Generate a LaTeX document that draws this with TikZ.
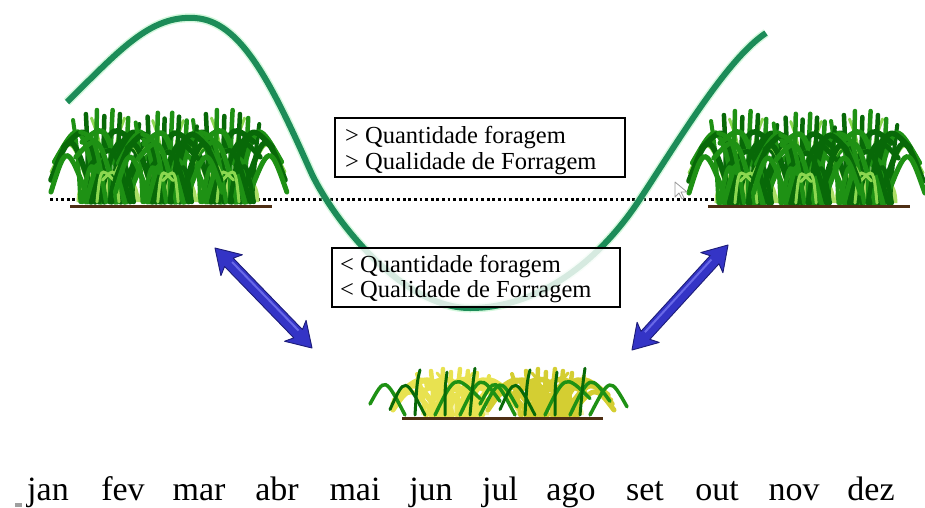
\documentclass[tikz,border=0pt]{standalone}
\usepackage{fontspec}
\setmainfont{Liberation Serif}
\newfontfamily\labelface{Liberation Serif}

\definecolor{curvegreen}{RGB}{28,140,88}
\definecolor{glowgreen}{RGB}{160,240,180}
\definecolor{bladeA}{RGB}{30,145,20}
\definecolor{bladeB}{RGB}{8,105,8}
\definecolor{bladeL}{RGB}{140,215,80}
\definecolor{leafback}{RGB}{170,222,100}
\definecolor{dryA}{RGB}{232,226,80}
\definecolor{dryB}{RGB}{212,206,50}
\definecolor{dryback}{RGB}{246,242,170}
\definecolor{soil}{RGB}{78,46,20}
\definecolor{arrowblue}{RGB}{52,52,198}
\definecolor{arrowedge}{RGB}{28,28,120}
\definecolor{arrowlight}{RGB}{105,105,232}

\tikzset{
  growth/.style={draw=curvegreen, line width=6pt},
  growthglow/.style={draw=glowgreen, line width=9pt, opacity=0.45},
  infobox/.style={draw=black, line width=1.6pt, fill=white, inner sep=0pt},
  boxtext/.style={anchor=base west, inner sep=0pt, font=\labelface\fontsize{24.5}{26}\selectfont},
  month/.style={anchor=base, inner sep=0pt, font=\labelface\fontsize{34}{36}\selectfont},
  ground/.style={draw=soil, line width=3pt},
  dotline/.style={draw=black, line width=3pt, dash pattern=on 2.8pt off 2.8pt},
}

% blade lists: base x / control x / control y / tip x / tip y / width / colour
\def\bladesFull{%
  -16/-40/-70/-62/-30/3/bladeL, 16/40/-70/62/-30/3/bladeL,
  -6/-8/-60/-18/-84/3/bladeL, 6/8/-60/18/-84/3/bladeL,
  -30/-33/-50/-38/-82/4/bladeA, -22/-22/-50/-24/-88/4.5/bladeB,
  -14/-13/-55/-12/-92/4.5/bladeA, -6/-5/-50/-4/-86/4.5/bladeB,
  2/3/-55/5/-92/4.5/bladeA, 10/11/-50/13/-88/4.5/bladeB,
  18/20/-50/22/-84/4.5/bladeA, 26/30/-50/34/-78/4/bladeB,
  -8/-30/-85/-58/-40/5.5/bladeA, -14/-40/-75/-62/-22/5.5/bladeB,
  -4/-22/-80/-48/-55/5.5/bladeB, -20/-45/-60/-62/-10/5/bladeA,
  8/30/-85/58/-40/5.5/bladeA, 14/40/-75/62/-22/5.5/bladeB,
  4/22/-80/48/-55/5.5/bladeB, 20/45/-60/64/-10/5/bladeA,
  -18/2/-80/28/-60/5.5/bladeB, 18/-2/-80/-28/-60/5.5/bladeA,
  -24/-6/-60/18/-38/5/bladeA, 24/6/-60/-18/-38/5/bladeB,
  -10/10/-70/35/-45/5/bladeB, 10/-10/-70/-35/-45/5/bladeA,
  -28/-20/-40/-10/-30/4.5/bladeA, 28/20/-40/10/-30/4.5/bladeB,
  -2/-14/-65/-30/-70/4.5/bladeA, 2/14/-65/30/-70/4.5/bladeB,
  -12/-8/-35/6/-22/3/bladeL, 12/8/-35/-6/-22/3/bladeL}
\def\bladesSparse{%
  -40/-60/-70/-75/-20/3.5/bladeA, -30/-28/-60/-25/-82/3/bladeB,
  -10/10/-75/35/-30/3.5/bladeA, 0/0/-50/2/-78/3/bladeB,
  15/35/-75/55/-25/3.5/bladeA, 25/28/-60/30/-85/3/bladeB,
  35/55/-70/72/-15/3.5/bladeA, -20/-40/-70/-55/-10/3/bladeB}

% one grass tuft: x, y, xscale, yscale, backing colour, blade list, colour override (or empty)
\newcommand\tuft[7]{%
  \begin{scope}[shift={(#1,#2)}, xscale=#3, yscale=#4]
    \path[fill=#5] (-34,0) .. controls (-36,-44) and (36,-44) .. (34,0) -- cycle;
    \foreach \bx/\cx/\cy/\tx/\ty/\w/\c in #6 {
      \edef\bc{\ifx\relax#7\relax\c\else#7\fi}
      \draw[\bc, line width=\w pt, line cap=round]
        (\bx,0) .. controls (\cx,\cy) .. (\tx,\ty);
    }
  \end{scope}}

\begin{document}
\begin{tikzpicture}[x=1pt, y=-1pt]
  \useasboundingbox (0,0) rectangle (925,507);

  % reference level
  \coordinate (lvlL) at (50,199);
  \coordinate (lvlR) at (880,199);
  \draw[dotline] (lvlL) -- (lvlR);

  % seasonal growth curve
  \draw[growthglow] (67,102) .. controls (120,50) and (150,15) .. (195,18)
    .. controls (240,21) and (270,80) .. (310,170)
    .. controls (330,215) and (400,308) .. (470,308)
    .. controls (540,308) and (600,260) .. (640,199)
    .. controls (680,138) and (728,58) .. (766,33);
  \draw[growth] (67,102) .. controls (120,50) and (150,15) .. (195,18)
    .. controls (240,21) and (270,80) .. (310,170)
    .. controls (330,215) and (400,308) .. (470,308)
    .. controls (540,308) and (600,260) .. (640,199)
    .. controls (680,138) and (728,58) .. (766,33);

  % text boxes
  \node[infobox, minimum width=290pt, minimum height=59pt] (hi) at (480,147.5) {};
  \node[boxtext] (hi1) at (345,143) {> Quantidade foragem};
  \node[boxtext] (hi2) at (345,169) {> Qualidade de Forragem};

  \node[infobox, fill opacity=0.82, minimum width=288pt, minimum height=59pt] (lo) at (476,277.5) {};
  \node[boxtext] (lo1) at (340,272) {< Quantidade foragem};
  \node[boxtext] (lo2) at (340,297) {< Qualidade de Forragem};

  % tall pasture, left and right
  \tuft{108}{202}{0.92}{1}{leafback}{\bladesFull}{}
  \tuft{228}{202}{0.92}{1}{leafback}{\bladesFull}{}
  \tuft{168}{202}{0.85}{0.97}{leafback}{\bladesFull}{}
  \tuft{746}{203}{0.92}{1}{leafback}{\bladesFull}{}
  \tuft{866}{203}{0.92}{1}{leafback}{\bladesFull}{}
  \tuft{806}{203}{0.85}{0.97}{leafback}{\bladesFull}{}
  % short, dry pasture
  \tuft{455}{415}{1}{0.5}{dryback}{\bladesFull}{dryA}
  \tuft{550}{415}{1}{0.5}{dryback}{\bladesFull}{dryB}
  \tuft{445}{415}{1}{0.55}{none}{\bladesSparse}{}
  \tuft{555}{415}{1}{0.55}{none}{\bladesSparse}{}

  % soil lines
  \coordinate (s1a) at (70,206);  \coordinate (s1b) at (272,206);
  \coordinate (s2a) at (708,206); \coordinate (s2b) at (910,206);
  \coordinate (s3a) at (402,418); \coordinate (s3b) at (603,418);
  \draw[ground] (s1a) -- (s1b);
  \draw[ground] (s2a) -- (s2b);
  \draw[ground] (s3a) -- (s3b);

  % double arrows
  \foreach \mx/\my/\ang/\L in {263.5/298/-45.87/69.7, 680/297.5/47.56/71.2} {
    \begin{scope}[shift={(\mx,\my)}, rotate=\ang]
      \filldraw[fill=arrowblue, draw=arrowedge, line width=0.9pt, line join=round]
        (\L,0) -- (\L-24,15) -- (\L-20,6) -- (-\L+20,6) -- (-\L+24,15)
        -- (-\L,0) -- (-\L+24,-15) -- (-\L+20,-6) -- (\L-20,-6) -- (\L-24,-15) -- cycle;
      \draw[arrowlight, line width=2pt] (-\L+22,-2.5) -- (\L-22,-2.5);
    \end{scope}
  }

  % pointer
  \filldraw[fill=white, draw=gray!80, line width=0.8pt, line join=round]
    (675,182) -- (675,197) -- (679,193) -- (682,199) -- (684,198) -- (681,192) -- (687,192) -- cycle;

  % months
  \foreach \m/\x [count=\i] in {jan/48, fev/123, mar/199, abr/277, mai/355, jun/431,
      jul/500, ago/571, set/645, out/717, nov/794, dez/871} {
    \node[month] (m\i) at (\x,500) {\m};
  }
  \fill[gray!75] (15,503) rectangle (22,507);
\end{tikzpicture}
\end{document}
